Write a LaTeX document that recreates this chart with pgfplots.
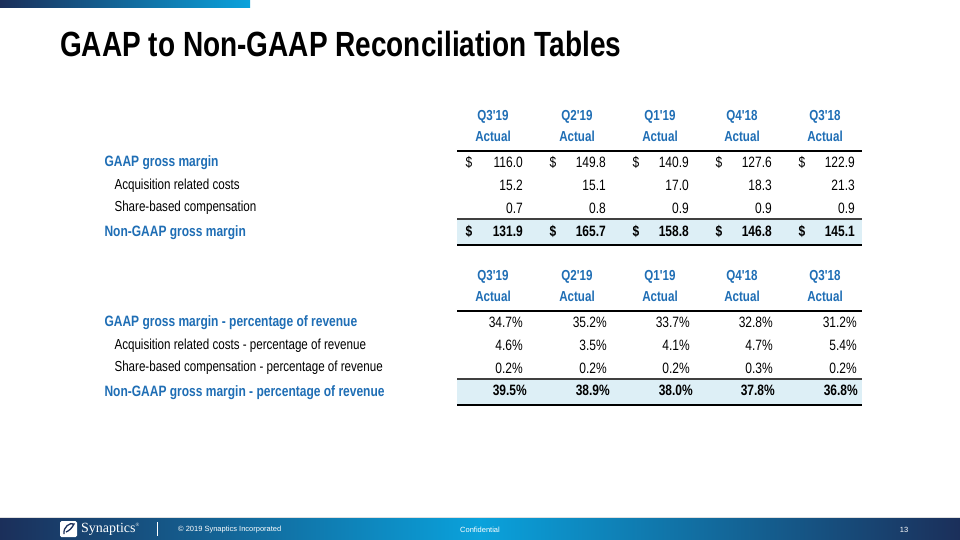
\documentclass[border=0pt]{standalone}
\usepackage{pgfplots}
\pgfplotsset{compat=1.18}
\usepackage{pgfplotstable}
\usepackage{fontspec}
\setmainfont{Liberation Sans}
\newfontfamily\narrow[FakeStretch=0.80]{Liberation Sans}
\newfontfamily\serifl{Liberation Serif}
\definecolor{synblue}{HTML}{1F6EB5}
\definecolor{navy}{HTML}{1B2F5A}
\definecolor{cyanb}{HTML}{0AA2DC}
\definecolor{rowshade}{HTML}{DDEFF6}

% dollar table: x = right edge of column, y = row position (pixels from top), v = value
\pgfplotstableread{
x y v
523 162 116.0
606 162 149.8
689 162 140.9
772 162 127.6
855 162 122.9
523 185 15.2
606 185 15.1
689 185 17.0
772 185 18.3
855 185 21.3
523 208 0.7
606 208 0.8
689 208 0.9
772 208 0.9
855 208 0.9
}\dollarrows
\pgfplotstableread{
x y v
523 231 131.9
606 231 165.7
689 231 158.8
772 231 146.8
855 231 145.1
}\dollartotal
\pgfplotstableread{
x y v
523 322 34.7
607 322 35.2
690 322 33.7
773 322 32.8
857 322 31.2
523 345 4.6
607 345 3.5
690 345 4.1
773 345 4.7
857 345 5.4
523 368 0.2
607 368 0.2
690 368 0.2
773 368 0.3
857 368 0.2
}\pctrows
\pgfplotstableread{
x y v
527 390 39.5
610 390 38.9
693 390 38.0
775 390 37.8
858 390 36.8
}\pcttotal

\tikzset{hdr/.style={font=\narrow\bfseries\fontsize{14.5}{16}\selectfont, text=synblue},
  dol/.style={font=\narrow\fontsize{15}{16}\selectfont},
  dolb/.style={font=\narrow\bfseries\fontsize{15}{16}\selectfont},
  lblb/.style={anchor=west, font=\narrow\bfseries\fontsize{15}{16}\selectfont, text=synblue},
  lbl/.style={anchor=west, font=\narrow\fontsize{14.5}{16}\selectfont}}

\begin{document}
\begin{tikzpicture}
\begin{axis}[
  width=960pt, height=540pt, scale only axis,
  xmin=0, xmax=960, ymin=0, ymax=540, y dir=reverse,
  hide axis, clip=false,
  /pgf/number format/assume math mode=true,
  every node near coord/.append style={anchor=east, inner sep=0pt, text=black},
]
% background
\path[fill=white] (axis cs:0,0) rectangle (axis cs:960,540);
% top banner
\shade[left color=navy, right color=cyanb] (axis cs:0,0) rectangle (axis cs:250,8);
% title
\node[anchor=base west, inner sep=0pt, font=\narrow\bfseries\fontsize{35}{38}\selectfont] at (axis cs:60,57) {GAAP to Non-GAAP Reconciliation Tables};

% ---------- table 1 ----------
\fill[rowshade] (axis cs:457,219) rectangle (axis cs:862,244);
\draw[line width=1.3pt] (axis cs:457,151) -- (axis cs:862,151);
\draw[line width=1.4pt, black!75] (axis cs:457,219) -- (axis cs:862,219);
\draw[line width=2.4pt] (axis cs:457,245) -- (axis cs:862,245);
\node[hdr] at (axis cs:493,117) {Q3'19};
\node[hdr] at (axis cs:577,117) {Q2'19};
\node[hdr] at (axis cs:660,117) {Q1'19};
\node[hdr] at (axis cs:742,117) {Q4'18};
\node[hdr] at (axis cs:825,117) {Q3'18};
\node[hdr] at (axis cs:493,136) {Actual};
\node[hdr] at (axis cs:577,136) {Actual};
\node[hdr] at (axis cs:660,136) {Actual};
\node[hdr] at (axis cs:742,136) {Actual};
\node[hdr] at (axis cs:825,136) {Actual};
\node[dol] at (axis cs:469,162) {\$};
\node[dol] at (axis cs:553,162) {\$};
\node[dol] at (axis cs:636,162) {\$};
\node[dol] at (axis cs:719,162) {\$};
\node[dol] at (axis cs:802,162) {\$};
\node[dolb] at (axis cs:469,231) {\$};
\node[dolb] at (axis cs:553,231) {\$};
\node[dolb] at (axis cs:636,231) {\$};
\node[dolb] at (axis cs:719,231) {\$};
\node[dolb] at (axis cs:802,231) {\$};
\node[lblb] at (axis cs:101,163) {GAAP gross margin};
\node[lbl] at (axis cs:111,186) {Acquisition related costs};
\node[lbl] at (axis cs:111,208) {Share-based compensation};
\node[lblb] at (axis cs:101,233) {Non-GAAP gross margin};

\addplot[only marks, mark=none, draw=none, point meta=explicit,
  nodes near coords={\narrow\fontsize{15}{16}\selectfont\pgfmathprintnumber[fixed,fixed zerofill,precision=1]{\pgfplotspointmeta}}]
  table[x=x, y=y, meta=v] {\dollarrows};
\addplot[only marks, mark=none, draw=none, point meta=explicit,
  nodes near coords={\narrow\bfseries\fontsize{15}{16}\selectfont\pgfmathprintnumber[fixed,fixed zerofill,precision=1]{\pgfplotspointmeta}}]
  table[x=x, y=y, meta=v] {\dollartotal};

% ---------- table 2 ----------
\fill[rowshade] (axis cs:457,379) rectangle (axis cs:862,404);
\draw[line width=1.3pt] (axis cs:457,311) -- (axis cs:862,311);
\draw[line width=1.4pt, black!75] (axis cs:457,379) -- (axis cs:862,379);
\draw[line width=2.4pt] (axis cs:457,405) -- (axis cs:862,405);
\node[hdr] at (axis cs:493,277) {Q3'19};
\node[hdr] at (axis cs:577,277) {Q2'19};
\node[hdr] at (axis cs:660,277) {Q1'19};
\node[hdr] at (axis cs:742,277) {Q4'18};
\node[hdr] at (axis cs:825,277) {Q3'18};
\node[hdr] at (axis cs:493,296) {Actual};
\node[hdr] at (axis cs:577,296) {Actual};
\node[hdr] at (axis cs:660,296) {Actual};
\node[hdr] at (axis cs:742,296) {Actual};
\node[hdr] at (axis cs:825,296) {Actual};
\node[lblb] at (axis cs:101,323) {GAAP gross margin - percentage of revenue};
\node[lbl] at (axis cs:111,346) {Acquisition related costs - percentage of revenue};
\node[lbl] at (axis cs:111,368) {Share-based compensation - percentage of revenue};
\node[lblb] at (axis cs:101,393) {Non-GAAP gross margin - percentage of revenue};

\addplot[only marks, mark=none, draw=none, point meta=explicit,
  nodes near coords={\narrow\fontsize{15}{16}\selectfont\pgfmathprintnumber[fixed,fixed zerofill,precision=1]{\pgfplotspointmeta}\%}]
  table[x=x, y=y, meta=v] {\pctrows};
\addplot[only marks, mark=none, draw=none, point meta=explicit,
  nodes near coords={\narrow\bfseries\fontsize{15}{16}\selectfont\pgfmathprintnumber[fixed,fixed zerofill,precision=1]{\pgfplotspointmeta}\%}]
  table[x=x, y=y, meta=v] {\pcttotal};

% ---------- footer ----------
\fill[black!12] (axis cs:0,516.5) rectangle (axis cs:960,518);
\shade[left color=navy, right color=cyanb] (axis cs:0,518) rectangle (axis cs:480,540);
\shade[left color=cyanb, right color=navy] (axis cs:479.5,518) rectangle (axis cs:960,540);
\fill[white, rounded corners=1.5pt] (axis cs:60,521) rectangle (axis cs:77,537);
\draw[navy, line width=1.3pt] (axis cs:64,534) .. controls (axis cs:63,527) and (axis cs:70,522) .. (axis cs:74,524)
  .. controls (axis cs:72,528) and (axis cs:69,531) .. (axis cs:66,532);
\node[anchor=west, inner sep=0pt, text=white, font=\serifl\fontsize{14}{16}\selectfont] at (axis cs:81,529) {Synaptics\textsuperscript{\tiny\textregistered}};
\draw[white, line width=0.7pt] (axis cs:157,522) -- (axis cs:157,536);
\node[anchor=west, inner sep=0pt, text=white, font=\fontsize{7.5}{9}\selectfont] at (axis cs:178,529.5) {\textcopyright{} 2019 Synaptics Incorporated};
\node[inner sep=0pt, text=white, font=\fontsize{7.5}{9}\selectfont] at (axis cs:480,529.5) {Confidential};
\node[inner sep=0pt, text=white, font=\fontsize{7.5}{9}\selectfont] at (axis cs:904,529.5) {13};
\end{axis}
\end{tikzpicture}
\end{document}
